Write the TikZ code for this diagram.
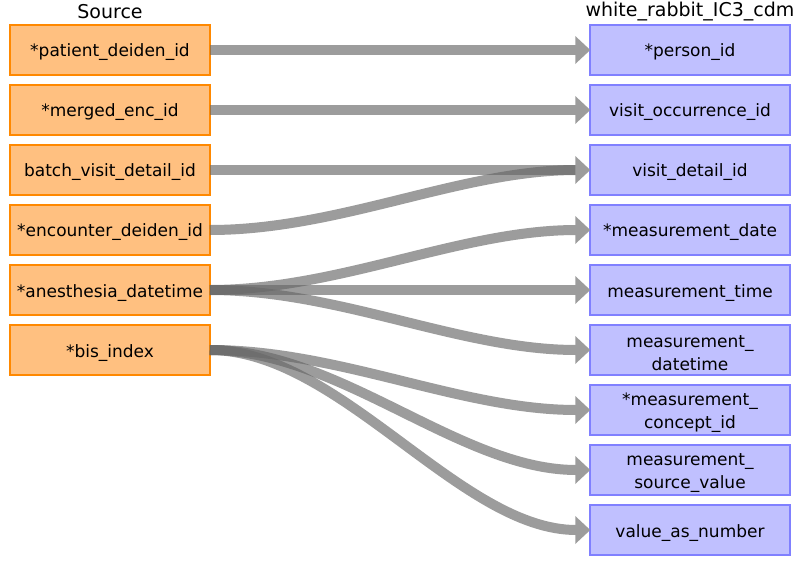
\documentclass[tikz,border=0pt]{standalone}
\usepackage{fontspec}
\setmainfont{DejaVu Sans}
\usetikzlibrary{arrows.meta}
\definecolor{srcfill}{HTML}{FFC080}
\definecolor{srcdraw}{HTML}{FF8800}
\definecolor{tgtfill}{HTML}{C0C0FF}
\definecolor{tgtdraw}{HTML}{8080FF}
\definecolor{shaftcol}{HTML}{676767}
\definecolor{tipcol}{HTML}{9C9C9C}
\newcommand{\topstrut}{\rule{0pt}{18pt}}
\begin{document}
\begin{tikzpicture}[x=1pt,y=-1pt,
  box/.style={line width=1.5pt, minimum width=200pt, minimum height=50pt, inner sep=0pt, font=\fontsize{17}{23}\selectfont, align=center},
  src/.style={box, draw=srcdraw, fill=srcfill},
  tgt/.style={box, draw=tgtdraw, fill=tgtfill},
  hdr/.style={font=\fontsize{19}{21}\selectfont, inner sep=0pt},
  shaft/.style={draw=shaftcol, draw opacity=0.65, line width=10pt, shorten >=14pt},
  tip/.style={draw=tipcol, line width=0.2pt, -{Triangle[length=15pt,width=28pt,fill=tipcol,line width=0pt]}}
]
\useasboundingbox (0,0) rectangle (800,565);

\node[hdr] (hs) at (110,12) {Source};
\node[hdr] (ht) at (690,12) {white\_rabbit\_IC3\_cdm};

\node[src] (s1) at (110,50) {\topstrut*patient\_deiden\_id};
\node[src] (s2) at (110,110) {\topstrut*merged\_enc\_id};
\node[src] (s3) at (110,170) {\topstrut batch\_visit\_detail\_id};
\node[src] (s4) at (110,230) {\topstrut*encounter\_deiden\_id};
\node[src] (s5) at (110,290) {\topstrut*anesthesia\_datetime};
\node[src] (s6) at (110,350) {\topstrut*bis\_index};

\node[tgt] (t1) at (690,50) {\topstrut*person\_id};
\node[tgt] (t2) at (690,110) {\topstrut visit\_occurrence\_id};
\node[tgt] (t3) at (690,170) {\topstrut visit\_detail\_id};
\node[tgt] (t4) at (690,230) {\topstrut*measurement\_date};
\node[tgt] (t5) at (690,290) {\topstrut measurement\_time};
\node[tgt] (t6) at (690,350) {\topstrut measurement\_\\datetime};
\node[tgt] (t7) at (690,410) {\topstrut*measurement\_\\concept\_id};
\node[tgt] (t8) at (690,470) {\topstrut measurement\_\\source\_value};
\node[tgt] (t9) at (690,530) {\topstrut value\_as\_number};

\foreach \a/\b in {s1/t1,s2/t2,s3/t3,s4/t3,s5/t4,s5/t5,s5/t6,s6/t7,s6/t8,s6/t9}{
  \draw[shaft] ([xshift=-1pt]\a.east) .. controls +(130,0) and +(-130,0) .. ([xshift=1pt]\b.west);
}
\foreach \b in {t1,t2,t3,t4,t5,t6,t7,t8,t9}{
  \draw[tip] ([xshift=-14pt]\b.west) -- ([xshift=1pt]\b.west);
}
\end{tikzpicture}
\end{document}
